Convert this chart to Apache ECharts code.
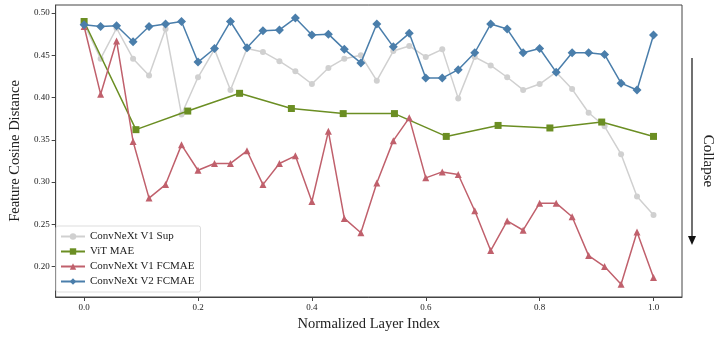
<!DOCTYPE html>
<html>
<head>
<meta charset="utf-8">
<script src="https://cdn.jsdelivr.net/npm/echarts@6/dist/echarts.min.js"></script>
<style>html,body{margin:0;padding:0;background:#fff;}#c{width:720px;height:340px;}</style>
</head>
<body>
<div id="c"></div>
<script>
// Normalized layer index for the ConvNeXt models (36 layers)
var xConvNeXt = [0, 0.029, 0.057, 0.086, 0.114, 0.143, 0.171, 0.2, 0.229, 0.257, 0.286, 0.314,
  0.343, 0.371, 0.4, 0.429, 0.457, 0.486, 0.514, 0.543, 0.571, 0.6, 0.629, 0.657,
  0.686, 0.714, 0.743, 0.771, 0.8, 0.829, 0.857, 0.886, 0.914, 0.943, 0.971, 1.0];
// Normalized layer index for ViT (12 layers)
var xViT = [0, 0.091, 0.182, 0.273, 0.364, 0.455, 0.545, 0.636, 0.727, 0.818, 0.909, 1.0];

var convnextV1Sup = [0.487, 0.446, 0.482, 0.446, 0.426, 0.481, 0.380, 0.424, 0.457, 0.409, 0.458, 0.454,
  0.443, 0.431, 0.416, 0.435, 0.446, 0.450, 0.420, 0.455, 0.461, 0.448, 0.457, 0.399,
  0.448, 0.438, 0.424, 0.409, 0.416, 0.430, 0.410, 0.382, 0.366, 0.333, 0.283, 0.261];
var vitMAE = [0.490, 0.362, 0.384, 0.405, 0.387, 0.381, 0.381, 0.354, 0.367, 0.364, 0.371, 0.354];
var convnextV1FCMAE = [0.484, 0.404, 0.467, 0.348, 0.281, 0.297, 0.344, 0.314, 0.322, 0.322, 0.337, 0.297,
  0.322, 0.331, 0.277, 0.360, 0.257, 0.240, 0.299, 0.349, 0.376, 0.305, 0.312, 0.309,
  0.266, 0.219, 0.254, 0.243, 0.275, 0.275, 0.259, 0.213, 0.200, 0.179, 0.241, 0.187];
var convnextV2FCMAE = [0.486, 0.484, 0.485, 0.466, 0.484, 0.487, 0.490, 0.442, 0.458, 0.490, 0.459, 0.479,
  0.480, 0.494, 0.474, 0.475, 0.457, 0.441, 0.487, 0.460, 0.476, 0.423, 0.423, 0.433,
  0.453, 0.487, 0.481, 0.453, 0.458, 0.430, 0.453, 0.453, 0.451, 0.417, 0.409, 0.474];

var xTicks = [0, 0.2, 0.4, 0.6, 0.8, 1.0];
var yTicks = [0.20, 0.25, 0.30, 0.35, 0.40, 0.45, 0.50];

function pairs(xs, ys) { return ys.map(function (v, i) { return [xs[i], v]; }); }

var FONT = '"Liberation Serif", "DejaVu Serif", serif';
var chart = echarts.init(document.getElementById('c'), null, {renderer: 'canvas'});

function mkSeries(name, xs, ys, color, symbol, size, z) {
  return {
    name: name, type: 'line', data: pairs(xs, ys), z: z,
    symbol: symbol, symbolSize: size, showSymbol: true,
    lineStyle: {color: color, width: 1.5},
    itemStyle: {color: color},
    emphasis: {disabled: true},
    animation: false
  };
}

chart.setOption({
  animation: false,
  grid: {left: 50, right: 38, top: 5, bottom: 43, show: true, borderColor: '#444', borderWidth: 1, backgroundColor: '#fff'},
  xAxis: {
    type: 'value', min: -0.05, max: 1.05,
    name: 'Normalized Layer Index', nameLocation: 'middle', nameGap: 20,
    nameTextStyle: {fontFamily: FONT, fontSize: 14.5, color: '#222'},
    axisLine: {show: true, onZero: false, lineStyle: {color: '#444'}},
    axisTick: {show: true, length: 4, lineStyle: {color: '#444'}, customValues: xTicks},
    axisLabel: {fontFamily: FONT, fontSize: 9, color: '#222', margin: 6, customValues: xTicks,
      formatter: function (v) { return v.toFixed(1); }},
    splitLine: {show: false}
  },
  yAxis: {
    type: 'value', min: 0.164, max: 0.5095,
    name: 'Feature Cosine Distance', nameLocation: 'middle', nameGap: 30,
    nameTextStyle: {fontFamily: FONT, fontSize: 14.5, color: '#222'},
    axisLine: {show: true, onZero: false, lineStyle: {color: '#444'}},
    axisTick: {show: true, length: 4, lineStyle: {color: '#444'}, customValues: yTicks},
    axisLabel: {fontFamily: FONT, fontSize: 9, color: '#222', margin: 6, customValues: yTicks,
      formatter: function (v) { return v.toFixed(2); }},
    splitLine: {show: false}
  },
  legend: {
    orient: 'vertical', left: 56, top: 226,
    itemWidth: 24, itemHeight: 8, itemGap: 4,
    padding: [5, 6, 5, 4],
    borderColor: '#ddd', borderWidth: 1, borderRadius: 2, backgroundColor: 'rgba(255,255,255,0.85)',
    textStyle: {fontFamily: FONT, fontSize: 11, color: '#222'},
    data: ['ConvNeXt V1 Sup', 'ViT MAE', 'ConvNeXt V1 FCMAE', 'ConvNeXt V2 FCMAE']
  },
  series: [
    mkSeries('ConvNeXt V1 Sup', xConvNeXt, convnextV1Sup, '#d0d0d0', 'circle', 6, 2),
    mkSeries('ViT MAE', xViT, vitMAE, '#6b8e23', 'rect', 7, 3),
    mkSeries('ConvNeXt V1 FCMAE', xConvNeXt, convnextV1FCMAE, '#c0606c', 'triangle', 7, 4),
    mkSeries('ConvNeXt V2 FCMAE', xConvNeXt, convnextV2FCMAE, '#4a7eab', 'diamond', 9, 5)
  ],
  graphic: [
    {type: 'line', shape: {x1: 692, y1: 58, x2: 692, y2: 238}, style: {stroke: '#111', lineWidth: 1.2}},
    {type: 'polygon', shape: {points: [[688, 236], [696, 236], [692, 245]]}, style: {fill: '#111'}},
    {type: 'text', x: 708, y: 161, rotation: -Math.PI / 2,
      style: {text: 'Collapse', font: '15px ' + FONT, fill: '#222', align: 'center', verticalAlign: 'middle'}}
  ]
});
</script>
</body>
</html>
